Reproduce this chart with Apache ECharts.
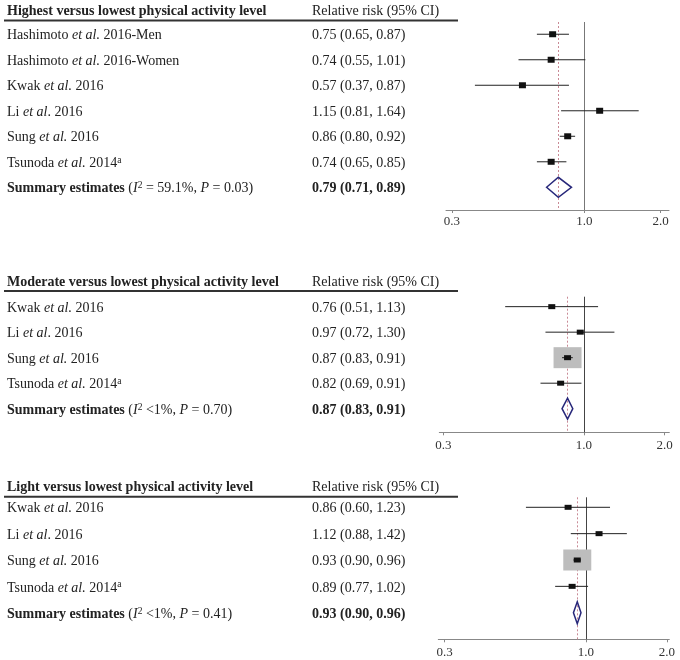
<!DOCTYPE html>
<html>
<head>
<meta charset="utf-8">
<script src="https://cdn.jsdelivr.net/npm/echarts@6/dist/echarts.min.js"></script>
<style>
  html, body { margin: 0; background: #fff; }
  #chart { width: 680px; height: 660px; }
</style>
</head>
<body>
<div id="chart"></div>
<script>
// Highest versus lowest
const highTitle = 'Highest versus lowest physical activity level';
const highStudies = [
  'Hashimoto {i|et al.} 2016-Men',
  'Hashimoto {i|et al.} 2016-Women',
  'Kwak {i|et al.} 2016',
  'Li {i|et al}. 2016',
  'Sung {i|et al.} 2016',
  'Tsunoda {i|et al.} 2014{sup|a}'
];
const highEst = [0.75, 0.74, 0.57, 1.15, 0.86, 0.74];
const highLow = [0.65, 0.55, 0.37, 0.81, 0.80, 0.65];
const highHigh = [0.87, 1.01, 0.87, 1.64, 0.92, 0.85];
const highText = ['0.75 (0.65, 0.87)', '0.74 (0.55, 1.01)', '0.57 (0.37, 0.87)',
  '1.15 (0.81, 1.64)', '0.86 (0.80, 0.92)', '0.74 (0.65, 0.85)'];
const highBox = [0, 0, 0, 0, 0, 0];
const highSummary = [0.79, 0.71, 0.89];
const highSummaryLabel = '{b|Summary estimates} ({i|I}{sup|2} = 59.1%, {i|P} = 0.03)';
const highSummaryText = '0.79 (0.71, 0.89)';

// Moderate versus lowest
const modTitle = 'Moderate versus lowest physical activity level';
const modStudies = [
  'Kwak {i|et al.} 2016',
  'Li {i|et al}. 2016',
  'Sung {i|et al.} 2016',
  'Tsunoda {i|et al.} 2014{sup|a}'
];
const modEst = [0.76, 0.97, 0.87, 0.82];
const modLow = [0.51, 0.72, 0.83, 0.69];
const modHigh = [1.13, 1.30, 0.91, 0.98];
const modText = ['0.76 (0.51, 1.13)', '0.97 (0.72, 1.30)', '0.87 (0.83, 0.91)', '0.82 (0.69, 0.91)'];
const modBox = [0, 0, 1, 0];
const modSummary = [0.87, 0.83, 0.91];
const modSummaryLabel = '{b|Summary estimates} ({i|I}{sup|2} <1%, {i|P} = 0.70)';
const modSummaryText = '0.87 (0.83, 0.91)';

// Light versus lowest
const lightTitle = 'Light versus lowest physical activity level';
const lightStudies = [
  'Kwak {i|et al.} 2016',
  'Li {i|et al}. 2016',
  'Sung {i|et al.} 2016',
  'Tsunoda {i|et al.} 2014{sup|a}'
];
const lightEst = [0.86, 1.12, 0.93, 0.89];
const lightLow = [0.60, 0.88, 0.90, 0.77];
const lightHigh = [1.23, 1.42, 0.96, 1.02];
const lightText = ['0.86 (0.60, 1.23)', '1.12 (0.88, 1.42)', '0.93 (0.90, 0.96)', '0.89 (0.77, 1.02)'];
const lightBox = [0, 0, 1, 0];
const lightSummary = [0.93, 0.90, 0.96];
const lightSummaryLabel = '{b|Summary estimates} ({i|I}{sup|2} <1%, {i|P} = 0.41)';
const lightSummaryText = '0.93 (0.90, 0.96)';

const xTicks = [0.3, 1.0, 2.0];
const colHeader = 'Relative risk (95% CI)';

const panels = [
  { title: highTitle, studies: highStudies, est: highEst, low: highLow, high: highHigh,
    text: highText, box: highBox, summary: highSummary,
    summaryLabel: highSummaryLabel, summaryText: highSummaryText },
  { title: modTitle, studies: modStudies, est: modEst, low: modLow, high: modHigh,
    text: modText, box: modBox, summary: modSummary,
    summaryLabel: modSummaryLabel, summaryText: modSummaryText },
  { title: lightTitle, studies: lightStudies, est: lightEst, low: lightLow, high: lightHigh,
    text: lightText, box: lightBox, summary: lightSummary,
    summaryLabel: lightSummaryLabel, summaryText: lightSummaryText }
];

// pixel layout of each panel
const layout = [
  { left: 446, right: 11, top: 22, height: 188, yMin: -0.48, yMax: 6.89,
    xMin: 0.2845, xMax: 2.16, headY: 12, lineY: 20.5, markH: 6, dia: 10, labelMargin: 5,
    refColor: '#777' },
  { left: 439.3, right: 10.7, top: 296.7, height: 135.6, yMin: -0.39, yMax: 4.925,
    xMin: 0.29, xMax: 2.08, headY: 283.5, lineY: 291, markH: 5, dia: 10.5, labelMargin: 7,
    refColor: '#444' },
  { left: 438.3, right: 10.7, top: 497.3, height: 142, yMin: -0.38, yMax: 5.01,
    xMin: 0.284, xMax: 2.04, headY: 488, lineY: 496.7, markH: 5, dia: 11, labelMargin: 7,
    refColor: '#444' }
];

const FONT = 'Liberation Serif';
const TXT = '#222';
const rich = {
  i: { fontFamily: FONT, fontSize: 14, fontStyle: 'italic', color: TXT, lineHeight: 16 },
  b: { fontFamily: FONT, fontSize: 14, fontWeight: 'bold', color: TXT, lineHeight: 16 },
  sup: { fontFamily: FONT, fontSize: 9.5, color: TXT, verticalAlign: 'top', lineHeight: 16 }
};

const chart = echarts.init(document.getElementById('chart'));

const grid = [], xAxis = [], yAxis = [], series = [], title = [], graphic = [];

panels.forEach((p, k) => {
  const L = layout[k];
  const n = p.studies.length;
  const rows = p.studies.map((_, i) => i);
  const labels = p.studies.concat([p.summaryLabel]);
  const rrLabels = p.text.concat(['{b|' + p.summaryText + '}']);
  const allRows = rows.concat([n]);

  grid.push({
    left: L.left, right: L.right, top: L.top, height: L.height,
    containLabel: false, outerBoundsMode: 'none'
  });

  xAxis.push({
    type: 'log', gridIndex: k, min: L.xMin, max: L.xMax,
    axisLine: { onZero: false, lineStyle: { color: '#888', width: 1 } },
    axisTick: { customValues: xTicks, length: 3, lineStyle: { color: '#888' } },
    axisLabel: {
      customValues: xTicks, margin: L.labelMargin,
      fontFamily: FONT, fontSize: 13, color: '#333',
      formatter: v => Number(v).toFixed(1)
    },
    splitLine: { show: false }, minorTick: { show: false }
  });

  const yBase = {
    type: 'value', gridIndex: k, position: 'left', inverse: true, min: L.yMin, max: L.yMax,
    axisLine: { show: false, onZero: false }, axisTick: { show: false }, splitLine: { show: false }
  };
  yAxis.push(Object.assign({}, yBase, {
    axisLabel: {
      customValues: allRows, align: 'left', margin: L.left - 7, padding: [3, 0, 0, 0],
      fontFamily: FONT, fontSize: 14, color: TXT, rich,
      formatter: v => labels[Math.round(v)]
    }
  }));
  yAxis.push(Object.assign({}, yBase, {
    axisLabel: {
      customValues: allRows, align: 'left', margin: L.left - 312, padding: [3, 0, 0, 0],
      fontFamily: FONT, fontSize: 14, color: TXT, rich,
      formatter: v => rrLabels[Math.round(v)]
    }
  }));

  title.push({
    text: p.title, left: 7, top: L.headY - 8, padding: 0,
    textStyle: { fontFamily: FONT, fontSize: 14, fontWeight: 'bold', color: TXT }
  });
  title.push({
    text: colHeader, left: 312, top: L.headY - 8, padding: 0,
    textStyle: { fontFamily: FONT, fontSize: 14, fontWeight: 'normal', color: TXT }
  });
  graphic.push({
    type: 'line', shape: { x1: 4, y1: L.lineY, x2: 458, y2: L.lineY },
    style: { stroke: '#333', lineWidth: 2 }, silent: true
  });

  // grey weight boxes
  series.push({
    type: 'scatter', xAxisIndex: k, yAxisIndex: 2 * k, silent: true,
    symbol: 'rect', symbolSize: [28, 21],
    itemStyle: { color: '#bdbdbd', opacity: 1 },
    data: rows.filter(i => p.box[i]).map(i => [p.est[i], i]),
    z: 1
  });

  // confidence intervals + reference lines
  series.push({
    type: 'custom', xAxisIndex: k, yAxisIndex: 2 * k, silent: true,
    data: rows.map(i => [p.low[i], i, p.high[i]]),
    renderItem: (params, api) => {
      const a = api.coord([api.value(0), api.value(1)]);
      const b = api.coord([api.value(2), api.value(1)]);
      return {
        type: 'line', shape: { x1: a[0], y1: a[1], x2: b[0], y2: b[1] },
        style: { stroke: '#222', lineWidth: 1 }
      };
    },
    markLine: {
      silent: true, symbol: 'none', label: { show: false }, z: 0.5,
      data: [
        { xAxis: 1, lineStyle: { color: L.refColor, width: 1, type: 'solid' } },
        { xAxis: p.summary[0], lineStyle: { color: '#c98a96', width: 1, type: [2, 2] } }
      ]
    },
    z: 2
  });

  // point estimates
  series.push({
    type: 'scatter', xAxisIndex: k, yAxisIndex: 2 * k, silent: true,
    symbol: 'rect', symbolSize: [7, L.markH],
    itemStyle: { color: '#111', opacity: 1 },
    data: rows.map(i => [p.est[i], i]),
    z: 3
  });

  // summary diamond
  series.push({
    type: 'custom', xAxisIndex: k, yAxisIndex: 2 * k, silent: true,
    data: [[p.summary[0], n, p.summary[1], p.summary[2]]],
    renderItem: (params, api) => {
      const c = api.coord([api.value(0), api.value(1)]);
      const lo = api.coord([api.value(2), api.value(1)]);
      const hi = api.coord([api.value(3), api.value(1)]);
      return {
        type: 'polygon',
        shape: { points: [[lo[0], c[1]], [c[0], c[1] - L.dia], [hi[0], c[1]], [c[0], c[1] + L.dia]] },
        style: { fill: 'none', stroke: '#27277a', lineWidth: 1.5 }
      };
    },
    z: 4
  });
});

chart.setOption({
  animation: false,
  backgroundColor: '#fff',
  title, grid, xAxis, yAxis, series, graphic
});
</script>
</body>
</html>
